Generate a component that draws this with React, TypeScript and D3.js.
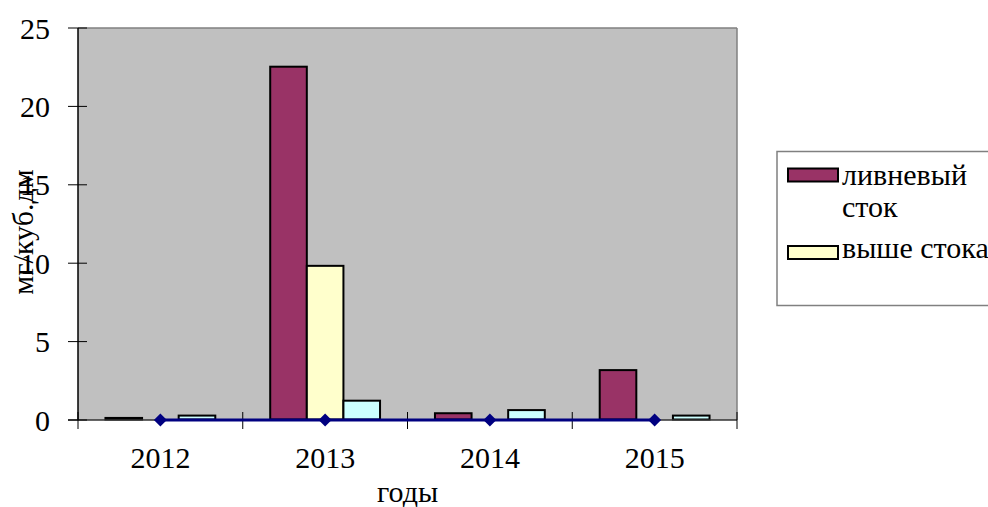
import React from 'react';
import * as d3 from 'd3';

const categories = ['2012', '2013', '2014', '2015'];
const stormRunoff = [0.1, 22.5, 0.4, 3.15];
const aboveOutfall = [0, 9.8, 0, 0];
const belowOutfall = [0.25, 1.2, 0.6, 0.25];
const lineSeries = [0, 0, 0, 0];
const yTicks = [0, 5, 10, 15, 20, 25];
const legendLabels = [['ливневый', 'сток'], ['выше стока']];

const W = 988, H = 507;
const plot = { left: 78, right: 737, top: 28, bottom: 420 };
const barColors = ['#993366', '#FFFFCC', '#CCFFFF'];

function T(props: any) {
  const { children, ...rest } = props;
  return (
    <text {...rest} fontFamily="Liberation Serif" fontSize={30} style={{ fontFamily: 'Liberation Serif', fontSize: '30px' }}>
      {children}
    </text>
  );
}

export default function App() {
  const x = d3.scaleBand<string>().domain(categories).range([plot.left, plot.right]).paddingInner(0).paddingOuter(0);
  const y = d3.scaleLinear().domain([0, 25]).range([plot.bottom, plot.top]);
  const cw = x.bandwidth();
  const bw = cw / 4.5;
  const off = bw * 0.75;
  const series = [stormRunoff, aboveOutfall, belowOutfall];
  const line = d3.line<number>().x((_, i) => (x(categories[i]) as number) + cw / 2).y((d) => y(d));
  const boundaries = [...categories.map((c) => x(c) as number), plot.right];

  return (
    <svg width={W} height={H} style={{ position: 'absolute', left: 0, top: 0, background: '#fff' }}>
      <rect x={plot.left} y={plot.top} width={plot.right - plot.left} height={plot.bottom - plot.top} fill="#C0C0C0" />
      <line x1={plot.left} x2={plot.right} y1={plot.top} y2={plot.top} stroke="#808080" strokeWidth={1.5} />
      <line x1={plot.right} x2={plot.right} y1={plot.top} y2={plot.bottom} stroke="#808080" strokeWidth={1.5} />
      {series.map((s, si) =>
        s.map((v, i) => {
          const bx = (x(categories[i]) as number) + off + si * bw;
          const top = y(v);
          return (
            <rect key={`${si}-${i}`} x={bx} y={top - 0.5} width={bw} height={Math.max(0, plot.bottom - top)}
              fill={barColors[si]} stroke="#000" strokeWidth={2} />
          );
        })
      )}
      <line x1={plot.left} x2={plot.left} y1={plot.top} y2={plot.bottom} stroke="#000" strokeWidth={1.5} />
      <line x1={plot.left - 10} x2={plot.right} y1={plot.bottom} y2={plot.bottom} stroke="#333" strokeWidth={1.5} />
      {yTicks.map((t) => (
        <g key={t}>
          <line x1={plot.left - 10} x2={plot.left + 9} y1={y(t)} y2={y(t)} stroke="#000" strokeWidth={1} />
          <T x={50} y={y(t)} dy="0.35em" textAnchor="end">{t}</T>
        </g>
      ))}
      {boundaries.map((b, i) => (
        <line key={i} x1={b} x2={b} y1={plot.bottom - 8} y2={plot.bottom + 9} stroke="#000" strokeWidth={1} />
      ))}
      <path d={line(lineSeries) || ''} fill="none" stroke="#000080" strokeWidth={3} />
      {lineSeries.map((v, i) => {
        const cx = (x(categories[i]) as number) + cw / 2;
        const cy = y(v);
        return <path key={i} d={`M${cx},${cy - 6.5}L${cx + 6.5},${cy}L${cx},${cy + 6.5}L${cx - 6.5},${cy}Z`} fill="#000080" />;
      })}
      {categories.map((c) => (
        <T key={c} x={(x(c) as number) + cw / 2} y={468} textAnchor="middle">{c}</T>
      ))}
      <T x={(plot.left + plot.right) / 2} y={502} textAnchor="middle">годы</T>
      <T transform="translate(33,232) rotate(-90)" textAnchor="middle">мг/куб.дм</T>
      <rect x={777} y={151.5} width={240} height={154} fill="#fff" stroke="#808080" strokeWidth={1.5} />
      <rect x={788} y={168.5} width={50} height={13} fill={barColors[0]} stroke="#000" strokeWidth={2} />
      <T x={842} y={185}>{legendLabels[0][0]}</T>
      <T x={842} y={217}>{legendLabels[0][1]}</T>
      <rect x={788} y={246} width={50} height={13} fill={barColors[1]} stroke="#000" strokeWidth={2} />
      <T x={842} y={258}>{legendLabels[1][0]}</T>
    </svg>
  );
}
